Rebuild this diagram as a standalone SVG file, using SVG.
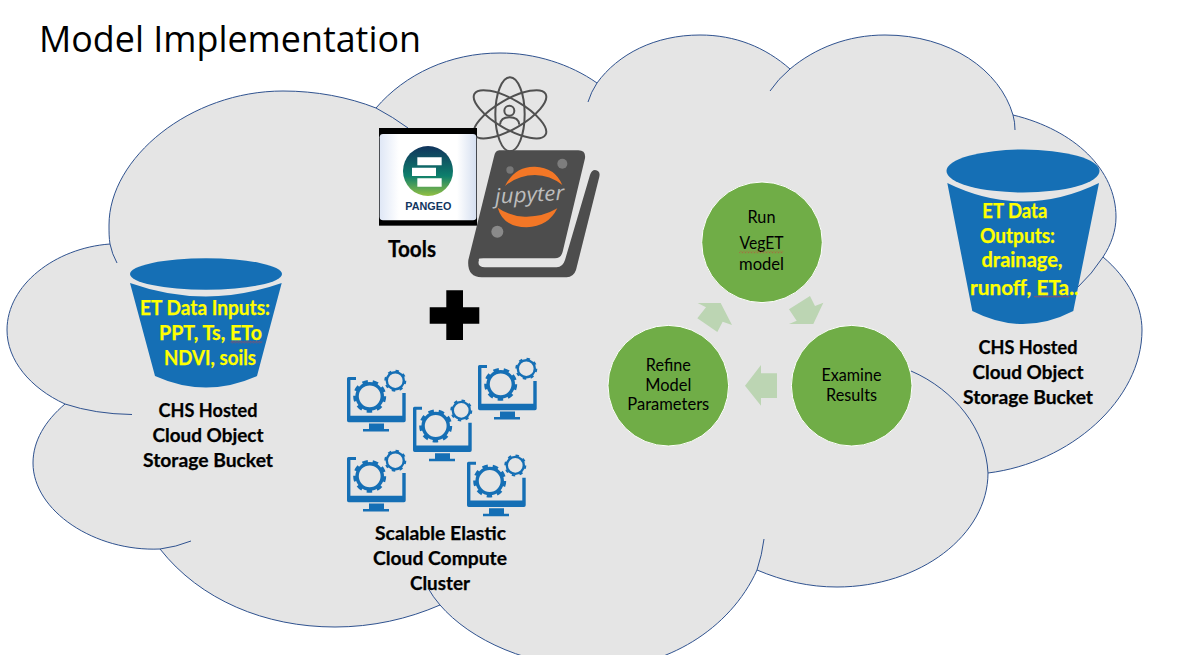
<svg xmlns="http://www.w3.org/2000/svg" xmlns:xlink="http://www.w3.org/1999/xlink" width="1184" height="655" viewBox="0 0 1184 655">
<style>
text{font-family:"Lato","Liberation Sans",sans-serif;text-anchor:middle}
.b{font-weight:700;font-size:19px;fill:#000;stroke:#000;stroke-width:.25}
.y{font-weight:700;font-size:20px;fill:#ffff00;stroke:#ffff00;stroke-width:.25}
.c{font-size:17px;fill:#000}
.cl{stroke:#2f528f;stroke-width:1;fill:none}
.bk{fill:#156fb5}
.ci{fill:#70ad47;stroke:#fff;stroke-width:1}
.ar{fill:#bcd5b3}
.at{fill:none;stroke:#505050;stroke-width:6}
</style>
<defs>
<pattern id="sq" width="3" height="2.4" patternUnits="userSpaceOnUse"><path d="M0,2 L1.5,.4 L3,2" fill="none" stroke="#d23a3a" stroke-width=".7"/></pattern>
<linearGradient id="pg" x1="0" y1="0" x2="0" y2="1"><stop offset="0" stop-color="#11335c"/><stop offset=".6" stop-color="#0d7f6c"/><stop offset="1" stop-color="#93c043"/></linearGradient>
<linearGradient id="pw" x1="0" y1="0" x2="1" y2="0"><stop offset="0" stop-color="#dfe7f6"/><stop offset=".2" stop-color="#fff"/><stop offset=".8" stop-color="#fff"/><stop offset="1" stop-color="#d5dff0"/></linearGradient>
<g id="monitor">
<path fill="#156fb5" d="M9,0V3H3.4V38.7H55.3V16H58.7V43.5Q58.7,45.3 57,45.3H1.7Q0,45.3 0,43.5V1.5Q0,0 1.5,0ZM22,46.5H37V52H42V54.5H16V52H22Z"/>
<circle cx="22.7" cy="19.3" r="12.6" fill="none" stroke="#156fb5" stroke-width="3.4"/>
<circle cx="22.7" cy="19.3" r="15" fill="none" stroke="#156fb5" stroke-width="3" stroke-dasharray="5.5 4.97"/>
<circle cx="48.3" cy="3.7" r="8.5" fill="none" stroke="#156fb5" stroke-width="2.4"/>
<circle cx="48.3" cy="3.7" r="10" fill="none" stroke="#156fb5" stroke-width="2" stroke-dasharray="3.4 4.45"/>
</g>
</defs>
<rect width="1184" height="655" fill="#fff"/>
<g id="cloud">
<path fill="#e5e5e5" stroke="#2f528f" stroke-width="1" d="M110,244C55,248 7,285 7,330C7,360 30,388 65,404C45,421 33,441 33,463C33,511 95,552 160,549C200,600 265,627 335,627C372,627 408,619 440,605C470,640 530,668 600,668C665,668 730,630 757,570C783,581 809,587 837,587C920,587 988,535 988,473C1070,463 1142,400 1142,330C1142,305 1128,278 1103,257C1111,245 1116,231 1116,217C1116,170 1075,130 1013,115C1000,70 950,35 885,35C848,35 815,48 790,69C765,47 735,35 700,35C655,35 618,54 597,83C570,64 535,53 500,53C450,53 405,74 376,108C348,97 316,91 283,91C190,91 109,158 109,225C109,232 109,238 110,244Z"/>
<path class="cl" d="M110,244Q112,254 117,263M65,404Q95,414 132,414.5M160,549Q176,547 191,541M440,605Q433,597 428,588M757,570Q762,555 764,539M988,473C986,430 955,390 911,371M1103,257Q1092,274 1078,287M1013,115Q1015,122 1015,130M790,69Q778,79 770,91M597,83Q591,92 588,102M376,108Q393,117 408,128"/>
</g>
<text id="title" x="230" y="52" style="font-family:'Open Sans','Liberation Sans',sans-serif;font-size:37px;fill:#000" textLength="382" lengthAdjust="spacingAndGlyphs">Model Implementation</text>
<g id="bucket-inputs">
<ellipse class="bk" cx="206" cy="274" rx="76" ry="15.7"/>
<path class="bk" d="M130,283Q206,310 281.7,283L257,376Q206,399 155,376Z"/>
<text class="y" x="205" y="315" textLength="130" lengthAdjust="spacingAndGlyphs">ET Data Inputs:</text>
<text class="y" x="210.5" y="340" textLength="103" lengthAdjust="spacingAndGlyphs">PPT, Ts, ETo</text>
<text class="y" x="210" y="365" textLength="92" lengthAdjust="spacingAndGlyphs">NDVI, soils</text>
<rect x="230.7" y="341" width="31.5" height="2.4" fill="url(#sq)"/>
<text class="b" x="208" y="416.7" textLength="99" lengthAdjust="spacingAndGlyphs">CHS Hosted</text>
<text class="b" x="208" y="441.7" textLength="111" lengthAdjust="spacingAndGlyphs">Cloud Object</text>
<text class="b" x="208" y="466.7" textLength="130" lengthAdjust="spacingAndGlyphs">Storage Bucket</text>
</g>
<g id="bucket-outputs">
<ellipse class="bk" cx="1023" cy="171" rx="76.5" ry="21.5"/>
<path class="bk" d="M947.3,183Q1023,220 1099,183L1073.3,311Q1023,337 972.3,311Z"/>
<text class="y" x="1014.8" y="217.7" textLength="65" lengthAdjust="spacingAndGlyphs">ET Data</text>
<text class="y" x="1017.5" y="242.7" textLength="75" lengthAdjust="spacingAndGlyphs">Outputs:</text>
<text class="y" x="1022" y="267.3" textLength="81" lengthAdjust="spacingAndGlyphs">drainage,</text>
<text class="y" x="1024.5" y="295" textLength="109" lengthAdjust="spacingAndGlyphs">runoff, ETa..</text>
<rect x="1034" y="295.6" width="35.4" height="2.4" fill="url(#sq)"/>
<text class="b" x="1028" y="353.5" textLength="99" lengthAdjust="spacingAndGlyphs">CHS Hosted</text>
<text class="b" x="1028" y="378.5" textLength="111" lengthAdjust="spacingAndGlyphs">Cloud Object</text>
<text class="b" x="1028" y="403.8" textLength="130" lengthAdjust="spacingAndGlyphs">Storage Bucket</text>
</g>
<g id="tools" transform="translate(340,60) scale(.33333)">
<g id="atom">
<ellipse class="at" cx="510" cy="163" rx="44" ry="111"/>
<ellipse class="at" cx="510" cy="163" rx="44" ry="123" transform="rotate(60 510 163)"/>
<ellipse class="at" cx="510" cy="163" rx="44" ry="123" transform="rotate(-60 510 163)"/>
<circle class="at" cx="508" cy="152" r="15"/>
<path class="at" d="M480,194Q482,172 508,172Q536,172 538,194"/>
</g>
<g id="pangeo">
<rect x="117" y="204" width="294" height="293" fill="#000"/>
<rect x="119" y="222" width="290" height="259" rx="10" fill="url(#pw)"/>
<circle cx="264" cy="333" r="75" fill="url(#pg)"/>
<path fill="#fff" d="M232,292H305V316H232ZM216,323H288V348H216ZM232,355H305V380H232Z"/>
<text x="265" y="450" style="font-family:'Liberation Sans',sans-serif;font-weight:700;font-size:34px;fill:#12365f" textLength="138" lengthAdjust="spacingAndGlyphs">PANGEO</text>
</g>
<g id="jupyter">
<path fill="#4d4d4d" d="M478,271H715Q738,271 735,295L668,575Q663,595 645,595H430Q413,595 417,600Q410,622 435,622H650Q668,622 675,600L750,345Q755,330 765,330Q782,332 778,350L708,630Q700,652 680,652H425Q380,650 385,600L462,290Q466,271 478,271Z"/>
<circle cx="510" cy="330" r="11" fill="#777"/>
<circle cx="667" cy="311" r="15" fill="#7d7d7d"/>
<circle cx="472" cy="515" r="18" fill="#8a8a8a"/>
<path fill="#f37726" d="M495,378Q525,318 585,320Q645,322 667,375Q630,345 585,345Q535,345 495,378Z"/>
<path fill="#f37726" d="M473,443Q515,472 560,470Q610,470 652,445Q625,500 560,502Q490,502 473,443Z"/>
<text x="570" y="425" transform="rotate(-3 570 425)" style="font-style:italic;font-size:62px;fill:#bdbdbd;font-family:'Open Sans',sans-serif" textLength="208" lengthAdjust="spacingAndGlyphs">jupyter</text>
</g>
</g>
<text id="tools-label" class="b" x="412" y="256.7" style="font-size:22px" textLength="48" lengthAdjust="spacingAndGlyphs">Tools</text>
<path id="plus" fill="#000" d="M446.3,290.3H463V307.3H479.3V323.7H463V340H446.3V323.7H429.7V307.3H446.3Z"/>
<g id="cluster">
<use xlink:href="#monitor" href="#monitor" x="347" y="377"/>
<use xlink:href="#monitor" href="#monitor" x="413" y="406.7"/>
<use xlink:href="#monitor" href="#monitor" x="478" y="365"/>
<use xlink:href="#monitor" href="#monitor" x="347" y="457"/>
<use xlink:href="#monitor" href="#monitor" x="467" y="461.7"/>
<text class="b" x="440.5" y="540" textLength="131" lengthAdjust="spacingAndGlyphs">Scalable Elastic</text>
<text class="b" x="440" y="565" textLength="134" lengthAdjust="spacingAndGlyphs">Cloud Compute</text>
<text class="b" x="440" y="590" textLength="60" lengthAdjust="spacingAndGlyphs">Cluster</text>
</g>
<g id="connectors" transform="translate(600,180) scale(.33333)">
<path class="ar" d="M531,580H483V555L435,617L483,677V654H531Z"/>
<path class="ar" d="M567,388L630,348L645,378L670,368L640,432H567L590,422Z"/>
<path class="ar" d="M293,369H362L396,435L368,425L352,456L292,415L318,382Z"/>
</g>
<g id="node-run">
<circle class="ci" cx="762" cy="242.3" r="60.3"/>
<text class="c" x="761.5" y="222.7" textLength="28" lengthAdjust="spacingAndGlyphs">Run</text>
<text class="c" x="761.5" y="248.5" textLength="44" lengthAdjust="spacingAndGlyphs">VegET</text>
<text class="c" x="761.5" y="270" textLength="45" lengthAdjust="spacingAndGlyphs">model</text>
<rect x="739.3" y="250.8" width="44" height="2.4" fill="url(#sq)"/>
</g>
<g id="node-refine">
<circle class="ci" cx="668.3" cy="385.7" r="60.3"/>
<text class="c" x="668.3" y="371" textLength="45" lengthAdjust="spacingAndGlyphs">Refine</text>
<text class="c" x="668.3" y="390.7" textLength="46" lengthAdjust="spacingAndGlyphs">Model</text>
<text class="c" x="668.3" y="410" textLength="82" lengthAdjust="spacingAndGlyphs">Parameters</text>
</g>
<g id="node-examine">
<circle class="ci" cx="851.7" cy="385.7" r="60.3"/>
<text class="c" x="851.5" y="380.7" textLength="60" lengthAdjust="spacingAndGlyphs">Examine</text>
<text class="c" x="851.5" y="400.7" textLength="51" lengthAdjust="spacingAndGlyphs">Results</text>
</g>
</svg>
